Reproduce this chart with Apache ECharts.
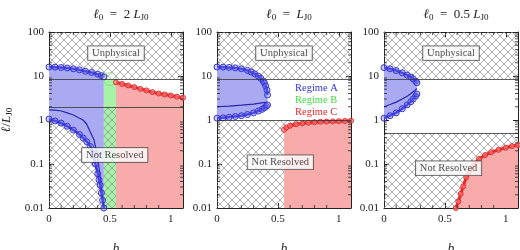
<!DOCTYPE html>
<html>
<head>
<meta charset="utf-8">
<script src="https://cdn.jsdelivr.net/npm/echarts@6/dist/echarts.min.js"></script>
<style>
html, body { margin: 0; padding: 0; background: #fff; }
#chart { width: 520px; height: 250px; }
</style>
</head>
<body>
<div id="chart"></div>
<script>
// axis ticks / labels
const xTickLabels = ['0', '0.5', '1']
const yTickLabels = ['0.01', '0.1', '1', '10', '100']
const xMinorTicks = [0.1, 0.2, 0.3, 0.4, 0.6, 0.7, 0.8, 0.9]
const yMinorTicks = [0.02, 0.03, 0.04, 0.05, 0.06, 0.07, 0.08, 0.09,
	0.2, 0.3, 0.4, 0.5, 0.6, 0.7, 0.8, 0.9,
	2, 3, 4, 5, 6, 7, 8, 9,
	20, 30, 40, 50, 60, 70, 80, 90]

// panel titles: l0 in units of L_J0
const panelL0 = [2, 1, 0.5]
const panelL0Text = ['2 ', '', '0.5 ']
const unphysicalLimit = 8.5

// regime A curves [b, l/LJ0]
const regimeAUpper = [
	[[0, 16], [0.05, 15.9], [0.1, 15.6], [0.15, 15.2], [0.2, 14.6], [0.25, 13.8], [0.3, 12.8], [0.35, 12], [0.4, 11], [0.43, 10.2], [0.45, 9.5]],
	[[0, 16], [0.05, 15.9], [0.1, 15.7], [0.15, 15.3], [0.2, 14.6], [0.25, 13.4], [0.28, 12.3], [0.31, 11.2], [0.34, 9.9], [0.36, 8.8], [0.38, 7.6], [0.39, 6.9], [0.4, 5.9], [0.41, 4.8], [0.415, 3.7]],
	[[0, 15.5], [0.05, 14.6], [0.1, 13.3], [0.15, 11.8], [0.19, 10.5], [0.22, 9.5], [0.24, 8.6], [0.26, 7.6], [0.27, 7.0]]
]
const regimeALower = [
	[[0, 1.05], [0.05, 0.95], [0.1, 0.85], [0.15, 0.72], [0.2, 0.59], [0.25, 0.47], [0.28, 0.39], [0.31, 0.32], [0.34, 0.25], [0.36, 0.17], [0.38, 0.1], [0.4, 0.06], [0.41, 0.044], [0.42, 0.033], [0.43, 0.022], [0.44, 0.015], [0.45, 0.01]],
	[[0, 1.1], [0.05, 1.12], [0.1, 1.15], [0.15, 1.2], [0.2, 1.25], [0.25, 1.33], [0.3, 1.45], [0.34, 1.6], [0.37, 1.75], [0.39, 1.9], [0.405, 2.05], [0.415, 2.2]],
	[[0, 1.1], [0.05, 1.25], [0.1, 1.45], [0.15, 1.8], [0.19, 2.2], [0.22, 2.6], [0.24, 3.0], [0.26, 3.5], [0.27, 3.9]]
]
const regimeAMiddle = [
	[[0, 1.7], [0.05, 1.68], [0.1, 1.6], [0.15, 1.45], [0.2, 1.3], [0.25, 1.1], [0.28, 1.0], [0.31, 0.8], [0.34, 0.53], [0.37, 0.35], [0.4, 0.14], [0.42, 0.05], [0.44, 0.018], [0.45, 0.01]],
	[[0, 2.0], [0.1, 2.07], [0.2, 2.17], [0.3, 2.3], [0.41, 2.55]],
	[[0, 2.0], [0.05, 2.25], [0.1, 2.55], [0.15, 3.0], [0.2, 3.6], [0.25, 4.6], [0.27, 5.2]]
]
// regime B (only first panel)
const regimeBRange = [0.45, 0.55]
const regimeBPoint = [[0.5, 8.5]]
// regime C curves
const regimeC = [
	[[0.55, 7.2], [0.6, 6.6], [0.65, 6.1], [0.7, 5.6], [0.75, 5.1], [0.8, 4.7], [0.85, 4.3], [0.9, 4.0], [0.95, 3.8], [1.0, 3.6], [1.05, 3.4], [1.1, 3.2]],
	[[0.55, 0.6], [0.57, 0.68], [0.6, 0.74], [0.65, 0.8], [0.7, 0.84], [0.75, 0.87], [0.8, 0.89], [0.85, 0.91], [0.9, 0.92], [0.95, 0.93], [1.0, 0.94], [1.05, 0.95], [1.1, 0.96]],
	[[0.59, 0.01], [0.61, 0.014], [0.63, 0.021], [0.65, 0.031], [0.675, 0.05], [0.7, 0.068], [0.74, 0.1], [0.78, 0.13], [0.83, 0.16], [0.88, 0.185], [0.94, 0.21], [1.0, 0.235], [1.05, 0.255], [1.1, 0.27]]
]
// label boxes [b, l/LJ0]
const unphysicalPos = [[0.55, 33], [0.55, 33], [0.55, 33]]
const notResolvedPos = [[0.54, 0.16], [0.52, 0.11], [0.53, 0.08]]

const xMin = 0, xMax = 1.1, yMin = 0.01, yMax = 100

// layout
const gridLeft = [49, 217, 384]
const gridTop = 32
const gridW = 134
const gridH = 176
const font = "'Liberation Serif', 'DejaVu Serif', serif"
const blue = '#3434d6'
const blueFill = '#aaaaf2'
const green = '#44dd44'
const greenFill = '#a6f2a6'
const red = '#e42a2a'
const redFill = '#f7abab'
const ink = '#222'

function makeHatch() {
	const c = document.createElement('canvas')
	c.width = 8
	c.height = 8
	const g = c.getContext('2d')
	g.strokeStyle = '#8c8c8c'
	g.lineWidth = 0.7
	g.beginPath()
	g.moveTo(0, 0); g.lineTo(8, 8)
	g.moveTo(8, 0); g.lineTo(0, 8)
	g.stroke()
	return c
}
const hatch = { image: makeHatch(), repeat: 'repeat' }

const richText = {
	it: { fontFamily: font, fontStyle: 'italic', fontWeight: 'normal', fontSize: 13, lineHeight: 15, color: ink },
	t: { fontFamily: font, fontWeight: 'normal', fontSize: 13, lineHeight: 15, color: ink },
	sub: { fontFamily: font, fontWeight: 'normal', fontSize: 9, lineHeight: 10, verticalAlign: 'bottom', color: ink }
}

const grids = [], xAxes = [], yAxes = [], series = [], titles = []

function xLabel(v) {
	const s = String(Math.round(v * 10) / 10)
	return xTickLabels.includes(s) ? s : ''
}
function yLabel(v) {
	return yTickLabels[Math.round(Math.log10(v)) + 2] || ''
}

panelL0.forEach((l0, i) => {
	grids.push({ left: gridLeft[i], top: gridTop, width: gridW, height: gridH, outerBoundsMode: 'none' })
	titles.push({
		text: '{it|ℓ}{sub|0}{t|  =  ' + panelL0Text[i] + '}{it|L}{sub|J0}',
		left: gridLeft[i] + gridW / 2, top: 2, textAlign: 'center',
		textStyle: { fontWeight: 'normal', rich: richText }
	})
	const lineStyle = { color: ink, width: 1 }
	;['bottom', 'top'].forEach(pos => {
		xAxes.push({
			gridIndex: i, type: 'value', min: xMin, max: xMax, interval: 0.5, position: pos,
			axisLine: { show: true, onZero: false, lineStyle },
			axisTick: { show: true, inside: true, length: 5, lineStyle },
			splitLine: { show: false },
			axisLabel: { show: pos === 'bottom', formatter: xLabel, fontFamily: font, fontSize: 11, color: ink, margin: 6, showMaxLabel: false },
			name: pos === 'bottom' ? 'b' : '', nameLocation: 'middle', nameGap: 34,
			nameTextStyle: { fontFamily: font, fontStyle: 'italic', fontSize: 13, color: ink }
		})
	})
	;['left', 'right'].forEach(pos => {
		yAxes.push({
			gridIndex: i, type: 'log', logBase: 10, min: yMin, max: yMax, position: pos,
			axisLine: { show: true, onZero: false, lineStyle },
			axisTick: { show: true, inside: true, length: 5, lineStyle },
			minorTick: { show: false },
			splitLine: { show: false },
			axisLabel: { show: pos === 'left', formatter: yLabel, fontFamily: font, fontSize: 11, color: ink, margin: 5 },
			name: (pos === 'left' && i === 0) ? '{it|ℓ}{t|/}{it|L}{sub|J0}' : '',
			nameLocation: 'middle', nameGap: 35, nameRotate: 90,
			nameTextStyle: { rich: richText }
		})
	})
	const ax = { xAxisIndex: 2 * i, yAxisIndex: 2 * i }

	// regime A filled region
	series.push(Object.assign({
		type: 'custom', z: 1, silent: true, data: [[0, 1]],
		renderItem: (params, api) => {
			const pts = regimeAUpper[i].map(p => api.coord(p))
				.concat(regimeALower[i].slice().reverse().map(p => api.coord(p)))
			return { type: 'polygon', shape: { points: pts }, style: { fill: blueFill } }
		}
	}, ax))
	// regime C fill
	series.push(Object.assign({
		type: 'line', z: 1, silent: true, data: regimeC[i], showSymbol: false,
		lineStyle: { width: 0 }, areaStyle: { origin: 'start', color: redFill, opacity: 1 }
	}, ax))
	// regime B band
	if (i === 0) {
		series.push(Object.assign({
			type: 'line', z: 1, silent: true, data: [],
			markArea: {
				silent: true, itemStyle: { color: greenFill },
				data: [[{ xAxis: regimeBRange[0], yAxis: yMin }, { xAxis: regimeBRange[1], yAxis: unphysicalLimit }]]
			}
		}, ax))
	}
	// hatched zones + boundary lines
	series.push(Object.assign({
		type: 'line', z: 2, silent: true, data: [],
		markArea: {
			silent: true, itemStyle: { color: hatch },
			data: [
				[{ xAxis: xMin, yAxis: unphysicalLimit }, { xAxis: xMax, yAxis: yMax }],
				[{ xAxis: xMin, yAxis: yMin }, { xAxis: xMax, yAxis: l0 }]
			]
		},
		markLine: {
			silent: true, symbol: 'none', label: { show: false },
			lineStyle: { color: '#333', width: 0.8, type: 'solid' },
			data: [{ yAxis: unphysicalLimit }, { yAxis: l0 }]
		}
	}, ax))
	// regime A lines
	series.push(Object.assign({
		type: 'line', z: 3, silent: true, data: regimeAMiddle[i], showSymbol: false,
		lineStyle: { color: '#2626b0', width: 1.2 }
	}, ax))
	;[regimeAUpper[i], regimeALower[i]].forEach(d => {
		series.push(Object.assign({
			name: 'Regime A', type: 'line', z: 4, silent: true, data: d,
			symbol: 'circle', symbolSize: 6, showAllSymbol: true,
			itemStyle: { color: 'rgba(120,120,240,0.35)', borderColor: blue, borderWidth: 1 },
			lineStyle: { color: blue, width: 2.5 }
		}, ax))
	})
	// regime B point
	if (i === 0) {
		series.push(Object.assign({
			name: 'Regime B', type: 'scatter', z: 4, silent: true, data: regimeBPoint,
			symbolSize: 13, itemStyle: { color: 'rgba(0,0,0,0)', borderColor: '#77e077', borderWidth: 1 }
		}, ax))
	}
	// regime C line
	series.push(Object.assign({
		name: 'Regime C', type: 'line', z: 4, silent: true, data: regimeC[i],
		symbol: 'circle', symbolSize: 5, showAllSymbol: true,
		itemStyle: { color: 'rgba(255,130,130,0.6)', borderColor: red, borderWidth: 1 },
		lineStyle: { color: red, width: 3 }
	}, ax))
	// label boxes
	series.push(Object.assign({
		type: 'scatter', z: 6, silent: true, symbolSize: 1, itemStyle: { color: 'rgba(0,0,0,0)' },
		data: [
			{ value: unphysicalPos[i], name: 'Unphysical' },
			{ value: notResolvedPos[i], name: 'Not Resolved' }
		],
		label: {
			show: true, position: 'inside', formatter: '{b}',
			fontFamily: font, fontSize: 10.5, color: ink,
			backgroundColor: '#fff', borderColor: '#333', borderWidth: 0.8, padding: [2, 4, 1, 4]
		}
	}, ax))
	// minor ticks on all four sides
	const tickData = yMinorTicks.map(v => [xMin, v, 0]).concat(xMinorTicks.map(b => [b, 1, 1]))
	series.push(Object.assign({
		type: 'custom', z: 7, silent: true, data: tickData,
		renderItem: (params, api) => {
			const cs = params.coordSys
			const st = { stroke: ink, lineWidth: 0.8 }
			if (api.value(2) === 0) {
				const y = api.coord([xMin, api.value(1)])[1]
				return { type: 'group', children: [
					{ type: 'line', shape: { x1: cs.x, y1: y, x2: cs.x + 3, y2: y }, style: st },
					{ type: 'line', shape: { x1: cs.x + cs.width, y1: y, x2: cs.x + cs.width - 3, y2: y }, style: st }
				] }
			}
			const x = api.coord([api.value(0), 1])[0]
			return { type: 'group', children: [
				{ type: 'line', shape: { x1: x, y1: cs.y + cs.height, x2: x, y2: cs.y + cs.height - 3 }, style: st },
				{ type: 'line', shape: { x1: x, y1: cs.y, x2: x, y2: cs.y + 3 }, style: st }
			] }
		}
	}, ax))
})

const chart = echarts.init(document.getElementById('chart'), null, { renderer: 'canvas' })
chart.setOption({
	backgroundColor: '#fff',
	animation: false,
	title: titles,
	grid: grids,
	xAxis: xAxes,
	yAxis: yAxes,
	legend: {
		orient: 'vertical', left: 290, top: 83, padding: 0,
		icon: 'none', itemWidth: 0, itemHeight: 10, itemGap: 1, selectedMode: false,
		textStyle: { fontFamily: font, fontSize: 10.5, lineHeight: 10 },
		data: [
			{ name: 'Regime A', textStyle: { color: blue } },
			{ name: 'Regime B', textStyle: { color: green } },
			{ name: 'Regime C', textStyle: { color: red } }
		]
	},
	series: series
})
</script>
</body>
</html>
